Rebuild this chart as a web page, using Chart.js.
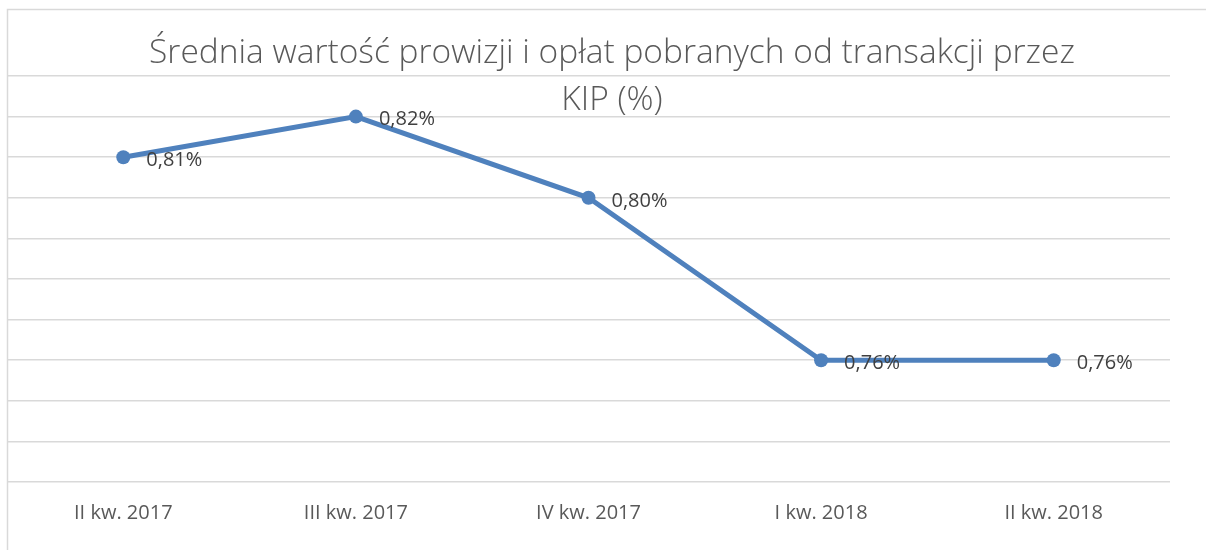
<!DOCTYPE html>
<html>
<head>
<meta charset="utf-8">
<script src="https://cdn.jsdelivr.net/npm/chart.js@4"></script>
<style>
  body { margin: 0; background: #fff; }
  #wrap { width: 1206px; height: 550px; }
</style>
</head>
<body>
<div id="wrap"><canvas id="linechart"></canvas></div>
<script>
const titleLines = ['Średnia wartość prowizji i opłat pobranych od transakcji przez', 'KIP (%)'];
const quarters = ['II kw. 2017', 'III kw. 2017', 'IV kw. 2017', 'I kw. 2018', 'II kw. 2018'];
const commission = [0.81, 0.82, 0.80, 0.76, 0.76];
const pointLabels = ['0,81%', '0,82%', '0,80%', '0,76%', '0,76%'];

const FONT = '"Open Sans", "Liberation Sans", sans-serif';

// frame + title drawn over the plot, like the original office chart
const frameAndTitle = {
    id: 'frameAndTitle',
    beforeDraw(chart) {
        const ctx = chart.ctx;
        ctx.save();
        ctx.strokeStyle = '#d9d9d9';
        ctx.lineWidth = 1.5;
        ctx.beginPath();
        ctx.moveTo(7.5, 550);
        ctx.lineTo(7.5, 9.5);
        ctx.lineTo(1206, 9.5);
        ctx.stroke();
        ctx.restore();
    },
    afterDraw(chart) {
        const ctx = chart.ctx;
        ctx.save();
        ctx.fillStyle = '#595959';
        ctx.font = '300 33.5px ' + FONT;
        ctx.textAlign = 'center';
        ctx.textBaseline = 'middle';
        ctx.fillText(titleLines[0], 612, 53);
        ctx.fillText(titleLines[1], 612, 100);
        ctx.restore();
    }
};

// simple value labels to the right of each point
const valueLabels = {
    id: 'valueLabels',
    afterDatasetsDraw(chart) {
        const ctx = chart.ctx;
        const meta = chart.getDatasetMeta(0);
        ctx.save();
        ctx.fillStyle = '#404040';
        ctx.font = '20px ' + FONT;
        ctx.textAlign = 'left';
        ctx.textBaseline = 'middle';
        meta.data.forEach((pt, i) => {
            ctx.fillText(pointLabels[i], pt.x + 23, pt.y + 3);
        });
        ctx.restore();
    }
};

const ctx = document.getElementById('linechart').getContext('2d');
new Chart(ctx, {
    type: 'line',
    data: {
        labels: quarters,
        datasets: [{
            data: commission,
            borderColor: '#4f81bd',
            backgroundColor: '#4f81bd',
            borderWidth: 5,
            pointRadius: 7,
            pointBackgroundColor: '#4f81bd',
            pointBorderWidth: 0,
            tension: 0
        }]
    },
    options: {
        responsive: true,
        maintainAspectRatio: false,
        animation: false,
        layout: { padding: { left: 7, right: 36, top: 76, bottom: 6 } },
        plugins: {
            legend: { display: false },
            title: { display: false },
            tooltip: { enabled: false }
        },
        scales: {
            x: {
                offset: true,
                grid: { display: false, drawTicks: false },
                border: { display: false },
                ticks: {
                    padding: 19,
                    color: '#595959',
                    font: { family: FONT, size: 20 }
                }
            },
            y: {
                min: 0.73,
                max: 0.83,
                ticks: { display: false, stepSize: 0.01 },
                grid: { color: '#d9d9d9', lineWidth: 1.5, drawTicks: false },
                border: { display: false }
            }
        }
    },
    plugins: [frameAndTitle, valueLabels]
});
</script>
</body>
</html>
